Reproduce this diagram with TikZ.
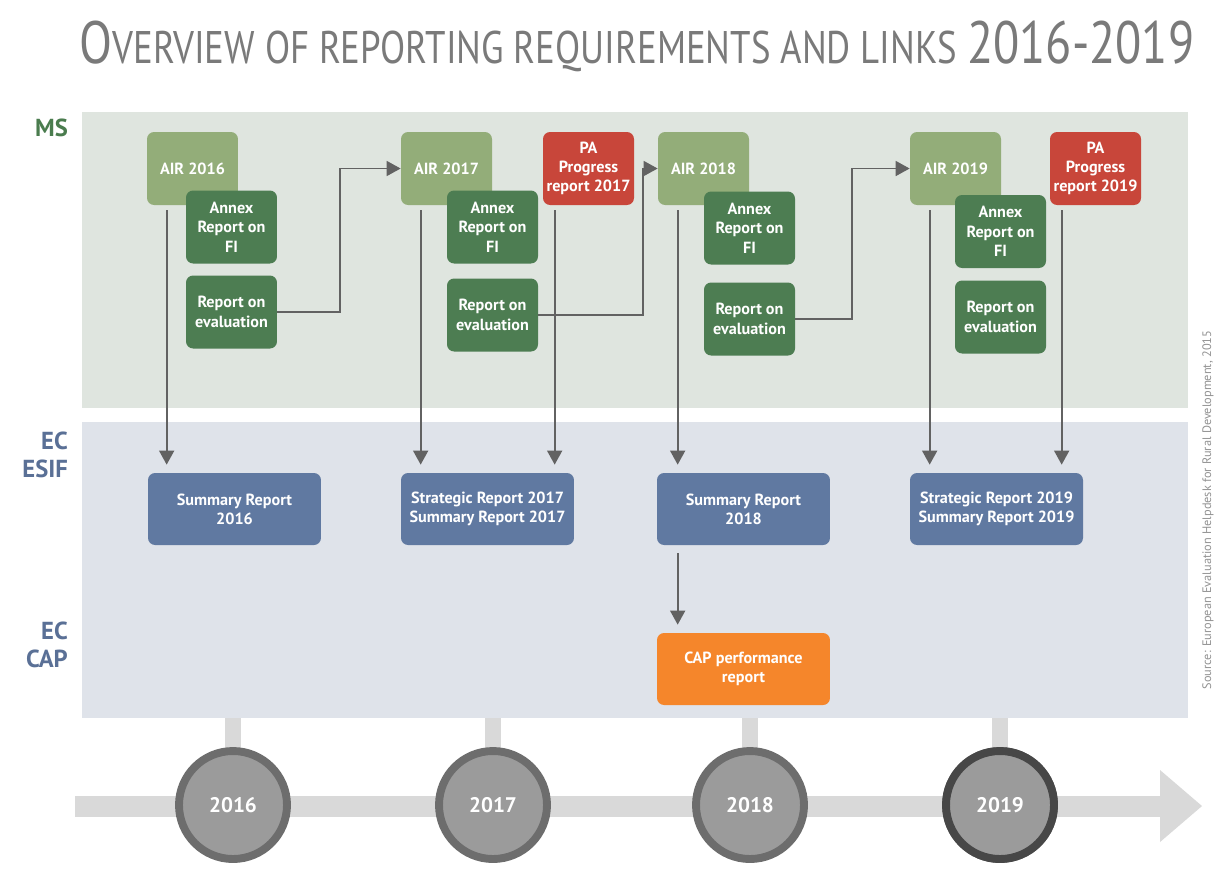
\documentclass[tikz,border=0pt]{standalone}
\usepackage{fontspec}
\setmainfont{PT Sans}
\usetikzlibrary{shapes,arrows.meta,calc,positioning}
\definecolor{airgreen}{HTML}{93AD79}
\definecolor{darkgreen}{HTML}{4D7D52}
\definecolor{pared}{HTML}{C8463A}
\definecolor{esifblue}{HTML}{6079A1}
\definecolor{caporange}{HTML}{F5862B}
\definecolor{msband}{HTML}{DFE5DF}
\definecolor{ecband}{HTML}{DFE3EA}
\definecolor{arrowgray}{HTML}{626262}
\definecolor{bargray}{HTML}{D9D9D9}
\definecolor{ballfill}{HTML}{9B9B9B}
\definecolor{ballring}{HTML}{6D6D6D}
\definecolor{titlegray}{HTML}{7A7A7A}
\definecolor{msgreen}{HTML}{4A7C4E}
\definecolor{ecblue}{HTML}{5A7096}
\tikzstyle{arrow} = [line width=1.1pt, draw=arrowgray, -{Triangle[width=8.5pt,length=8pt]}]

\begin{document}
\begin{tikzpicture}[x=0.02cm,y=-0.02cm]
\tikzset{box/.style={rectangle,rounded corners=4pt,text=white,align=center,inner sep=0pt,
    font=\bfseries\fontsize{9.2}{11}\selectfont},
  small/.style={box,minimum width=1.82cm,minimum height=1.46cm},
  wide/.style={box,minimum width=3.46cm,minimum height=1.44cm},
  air/.style={small,fill=airgreen},
  fi/.style={small,fill=darkgreen},
  pa/.style={small,fill=pared},
  esif/.style={wide,fill=esifblue},
  capbox/.style={wide,fill=caporange},
  yearball/.style={circle,fill=ballfill,draw=ballring,line width=4.5pt,minimum size=2.16cm,
    text=white,font=\bfseries\fontsize{12}{12}\selectfont},
  rowlabel/.style={anchor=east,align=right,font=\bfseries\fontsize{14}{16}\selectfont}}
\useasboundingbox[fill=white] (0,0) rectangle (1222,877);

% title
\node[text=titlegray] (title) at (637,46) {\resizebox{22.3cm}{\height}{%
  \fontsize{34}{34}\selectfont O\fontsize{26}{26}\selectfont VERVIEW OF REPORTING REQUIREMENTS AND LINKS
  \fontsize{34}{34}\selectfont 2016-2019}};

% bands
\fill[msband] (82,112) rectangle (1188,408);
\fill[ecband] (82,422) rectangle (1188,718);
\node[rowlabel,text=msgreen] (ms) at (74,128) {MS};
\node[rowlabel,text=ecblue] (esif) at (74,455) {EC\\ESIF};
\node[rowlabel,text=ecblue] (ecap) at (74,645) {EC\\CAP};
\node[rotate=90,text=gray!85,font=\fontsize{7}{9}\selectfont] (src) at (1208,510)
  {Source: European Evaluation Helpdesk for Rural Development, 2015};

% timeline
\fill[bargray] (75,796) rectangle (1162,817);
\fill[bargray] (1160,770) -- (1202,806) -- (1160,842) -- cycle;
\foreach \x/\yr in {233/2016,493/2017,750/2018,1000/2019} {
  \fill[bargray] (\x-8,718) rectangle (\x+8,752);
  \node[yearball] (y\yr) at (\x,805) {\yr}; }
\node[yearball,draw=black!72] at (y2019) {2019};

% MS reports
\node[air] (air16) at (192.5,168.5) {AIR 2016};
\node[fi] (fi16) at (231.5,227) {Annex\\Report on\\FI};
\node[fi] (ev16) at (231.5,312) {Report on\\evaluation};
\node[air] (air17) at (446.5,168.5) {AIR 2017};
\node[fi] (fi17) at (492.5,227) {Annex\\Report on\\FI};
\node[fi] (ev17) at (492.5,315) {Report on\\evaluation};
\node[pa] (pa17) at (588.5,168.5) {PA\\Progress\\report 2017};
\node[air] (air18) at (703.5,168.5) {AIR 2018};
\node[fi] (fi18) at (749.5,228) {Annex\\Report on\\FI};
\node[fi] (ev18) at (749.5,319) {Report on\\evaluation};
\node[air] (air19) at (955.5,168.5) {AIR 2019};
\node[fi] (fi19) at (1000.5,231.5) {Annex\\Report on\\FI};
\node[fi] (ev19) at (1000.5,317) {Report on\\evaluation};
\node[pa] (pa19) at (1095.5,168.5) {PA\\Progress\\report 2019};

% EC reports
\node[esif] (sr16) at (234.5,509) {Summary Report\\2016};
\node[esif] (sr17) at (487.5,509) {Strategic Report 2017\\Summary Report 2017};
\node[esif] (sr18) at (743.5,509) {Summary Report\\2018};
\node[esif] (sr19) at (996.5,509) {Strategic Report 2019\\Summary Report 2019};
\node[capbox] (cap) at (743.5,669) {CAP performance\\report};

% links
\draw[arrow] (ev16.east) -- ++(63,0) |- (air17.west);
\draw[arrow] (ev17.east) -- ++(105,0) |- (air18.west);
\draw[arrow] (ev18.east) -- ++(57,0) |- (air19.west);
\draw[arrow] ($(air16.south west)+(20,5)$) -- ($(air16.south west |- sr16.north)+(20,-8)$);
\draw[arrow] ($(air17.south west)+(20,5)$) -- ($(air17.south west |- sr17.north)+(20,-8)$);
\draw[arrow] ($(pa17.south west)+(12,5)$) -- ($(pa17.south west |- sr17.north)+(12,-8)$);
\draw[arrow] ($(air18.south west)+(20,5)$) -- ($(air18.south west |- sr18.north)+(20,-8)$);
\draw[arrow] ($(air19.south west)+(20,5)$) -- ($(air19.south west |- sr19.north)+(20,-8)$);
\draw[arrow] ($(pa19.south west)+(12,5)$) -- ($(pa19.south west |- sr19.north)+(12,-8)$);
\draw[arrow] ($(sr18.south west)+(21,8)$) -- ($(cap.north west)+(21,-8)$);

\end{tikzpicture}
\end{document}
